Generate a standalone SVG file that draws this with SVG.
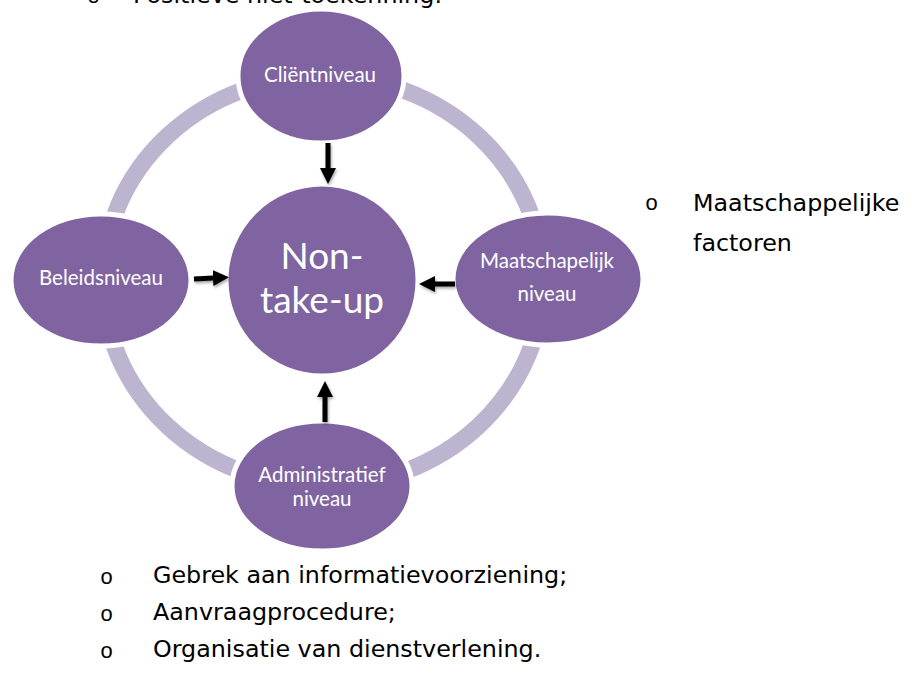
<svg xmlns="http://www.w3.org/2000/svg" width="907" height="678" viewBox="0 0 907 678">
  <defs>
    <style>
      .node { fill: #8064A2; stroke: #FFFFFF; stroke-width: 5; }
      .lbl { font-family: Lato, "Open Sans", "Liberation Sans", sans-serif; font-size: 20.5px; fill: #FFFFFF; text-anchor: middle; }
      .big { font-family: Lato, "Open Sans", "Liberation Sans", sans-serif; font-size: 37px; fill: #FFFFFF; text-anchor: middle; }
      .body { font-family: "DejaVu Sans", Verdana, sans-serif; font-size: 23.8px; fill: #000000; }
      .bul { font-family: "Liberation Mono", "DejaVu Sans Mono", monospace; font-size: 22px; fill: #000000; }
      .arr { stroke: #000000; stroke-width: 5; fill: none; marker-end: url(#head); filter: url(#sh); }
    </style>
    <marker id="head" markerUnits="userSpaceOnUse" markerWidth="17" markerHeight="17" refX="0" refY="8" orient="auto" viewBox="0 0 17 16">
      <path d="M0,0 L16,8 L0,16 Z" fill="#000000"/>
    </marker>
    <filter id="sh" filterUnits="userSpaceOnUse" x="0" y="0" width="907" height="678">
      <feDropShadow dx="1" dy="2" stdDeviation="1.5" flood-color="#000000" flood-opacity="0.35"/>
    </filter>
  </defs>
  <rect width="907" height="678" fill="#FFFFFF"/>

  <text class="bul" x="87" y="3">o</text>
  <text class="body" x="133" y="3">Positieve niet-toekenning:</text>

  <g id="ring">
    <ellipse cx="323" cy="281" rx="220" ry="205" fill="none" stroke="#BDB4CF" stroke-width="17"/>
  </g>

  <g id="node-center">
    <circle class="node" cx="322" cy="280" r="96"/>
    <text class="big" x="322" y="269">Non-</text>
    <text class="big" x="322" y="313">take-up</text>
  </g>
  <g id="node-client">
    <ellipse class="node" cx="321" cy="76" rx="83" ry="67"/>
    <text class="lbl" x="320" y="82">Cliëntniveau</text>
  </g>
  <g id="node-beleid">
    <ellipse class="node" cx="101" cy="280" rx="90" ry="66"/>
    <text class="lbl" x="101" y="285">Beleidsniveau</text>
  </g>
  <g id="node-maatschap">
    <ellipse class="node" cx="548" cy="279" rx="95" ry="66"/>
    <text class="lbl" x="547" y="268">Maatschapelijk</text>
    <text class="lbl" x="547" y="301">niveau</text>
  </g>
  <g id="node-admin">
    <ellipse class="node" cx="322" cy="486" rx="90" ry="65"/>
    <text class="lbl" x="322" y="482">Administratief</text>
    <text class="lbl" x="322" y="506">niveau</text>
  </g>

  <g id="connectors">
    <path class="arr" d="M328,143 L328,168"/>
    <path class="arr" d="M194,279 L213,278"/>
    <path class="arr" d="M455,284 L435,284"/>
    <path class="arr" d="M325,422 L325,397"/>
  </g>

  <g id="right-list">
    <text class="bul" x="645" y="210">o</text>
    <text class="body" x="693" y="211">Maatschappelijke</text>
    <text class="body" x="693" y="251">factoren</text>
  </g>

  <g id="bottom-list">
    <text class="bul" x="100" y="584">o</text>
    <text class="body" x="153" y="583">Gebrek aan informatievoorziening;</text>
    <text class="bul" x="100" y="621">o</text>
    <text class="body" x="153" y="620">Aanvraagprocedure;</text>
    <text class="bul" x="100" y="658">o</text>
    <text class="body" x="153" y="657">Organisatie van dienstverlening.</text>
  </g>
</svg>
